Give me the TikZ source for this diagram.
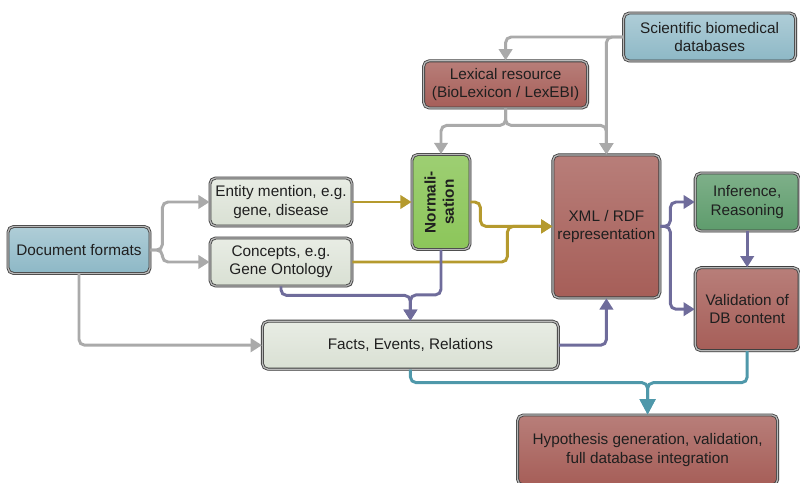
\documentclass[tikz,border=0pt]{standalone}
\usepackage{fontspec}
\setmainfont{Liberation Sans}
\usepackage{graphicx}
\usepackage{tikz}
\usetikzlibrary{arrows.meta,shadows,positioning}

\definecolor{cblue}{HTML}{8DB8C6}
\definecolor{cred}{HTML}{A65E58}
\definecolor{cpale}{HTML}{D9E0D3}
\definecolor{cgreen}{HTML}{8CC65A}
\definecolor{cdgreen}{HTML}{5E9C6C}
\definecolor{cgray}{HTML}{AAAAAA}
\definecolor{cgold}{HTML}{B59A2E}
\definecolor{cpurple}{HTML}{6F6C9B}
\definecolor{cteal}{HTML}{4F98AA}

\begin{document}
\begin{tikzpicture}[
        box/.style = {rounded corners=4pt, draw=black!75, double=gray!55, double distance=0.9pt, line width=0.6pt,
                      drop shadow={shadow xshift=1pt, shadow yshift=-1pt, opacity=0.35},
                      align=center, inner sep=1pt, text=black!88, font=\fontsize{10.9}{13}\selectfont},
        bluebox/.style = {box, top color=cblue!70!white, bottom color=cblue},
        redbox/.style = {box, top color=cred!80!white, bottom color=cred},
        palebox/.style = {box, top color=cpale!60!white, bottom color=cpale},
        greenbox/.style = {box, top color=cgreen!85!white, bottom color=cgreen},
        dgreenbox/.style = {box, top color=cdgreen!80!white, bottom color=cdgreen},
        link/.style = {line width=2.1pt, rounded corners=4pt, -{Triangle[length=8pt,width=9.5pt]}},
        grayline/.style = {link, cgray},
        goldline/.style = {link, cgold},
        purpleline/.style = {link, cpurple},
        tealline/.style = {link, cteal, -{Triangle[length=11pt,width=11pt]}},
        ]
        \useasboundingbox (0,0) rectangle (20,-12.075);

        % boxes
        \node[bluebox, minimum width=4.3cm, minimum height=1.2cm] (sci) at (17.74,-0.925) {Scientific biomedical\\databases};
        \node[redbox, minimum width=4.1cm, minimum height=1.18cm] (lex) at (12.64,-2.11) {Lexical resource\\(BioLexicon / LexEBI)};
        \node[bluebox, minimum width=3.55cm, minimum height=1.175cm] (doc) at (1.975,-6.25) {Document formats};
        \node[palebox, minimum width=3.55cm, minimum height=1.2cm] (ent) at (7.025,-5.05) {Entity mention, e.g.\\gene, disease};
        \node[palebox, minimum width=3.55cm, minimum height=1.2cm] (con) at (7.025,-6.55) {Concepts, e.g.\\Gene Ontology};
        \node[greenbox, minimum width=1.45cm, minimum height=2.375cm] (norm) at (11.025,-5.05)
            {\rotatebox{90}{\bfseries\begin{tabular}{@{}c@{}}Normali-\\sation\end{tabular}}};
        \node[redbox, minimum width=2.675cm, minimum height=3.575cm] (xml) at (15.16,-5.66) {XML / RDF\\representation};
        \node[dgreenbox, minimum width=2.6cm, minimum height=1.45cm] (inf) at (18.68,-5.05) {Inference,\\Reasoning};
        \node[redbox, minimum width=2.6cm, minimum height=2.075cm] (val) at (18.68,-7.73) {Validation of\\DB content};
        \node[palebox, minimum width=7.4cm, minimum height=1.2cm] (facts) at (10.26,-8.63) {Facts, Events, Relations};
        \node[redbox, minimum width=6.5cm, minimum height=1.75cm] (hyp) at (16.19,-11.25) {Hypothesis generation, validation,\\full database integration};

        % gray connectors
        \draw[grayline] (sci.west) -| (lex.north);
        \draw[grayline] (sci.west) -| (xml.north);
        \draw[grayline] (lex.south) -- ++(0,-0.425) -| (norm.north);
        \draw[grayline] (lex.south) -- ++(0,-0.425) -| (xml.north);
        \draw[grayline] (doc.east) -- ++(0.3,0) |- (ent.west);
        \draw[grayline] (doc.east) -- ++(0.3,0) |- (con.west);
        \draw[grayline] (doc.south) |- (facts.west);

        % gold connectors
        \draw[goldline] (ent.east) -- (norm.west);
        \draw[goldline] (norm.east) -- ++(0.25,0) |- (xml.west);
        \draw[goldline] (con.east) -- ++(3.875,0) |- (xml.west);

        % purple connectors
        \draw[purpleline] (con.south) -- ++(0,-0.225) -| (facts.north);
        \draw[purpleline] (norm.south) -- ++(0,-1.125) -| (facts.north);
        \draw[purpleline] (facts.east) -| (xml.south);
        \draw[purpleline] (xml.east) -- ++(0.25,0) |- (inf.west);
        \draw[purpleline] (xml.east) -- ++(0.25,0) |- (val.west);
        \draw[purpleline] (inf.south) -- (val.north);

        % teal connectors
        \draw[tealline] (facts.south) -- ++(0,-0.325) -| (hyp.north);
        \draw[tealline] (val.south) -- ++(0,-0.79) -| (hyp.north);
    \end{tikzpicture}
\end{document}
